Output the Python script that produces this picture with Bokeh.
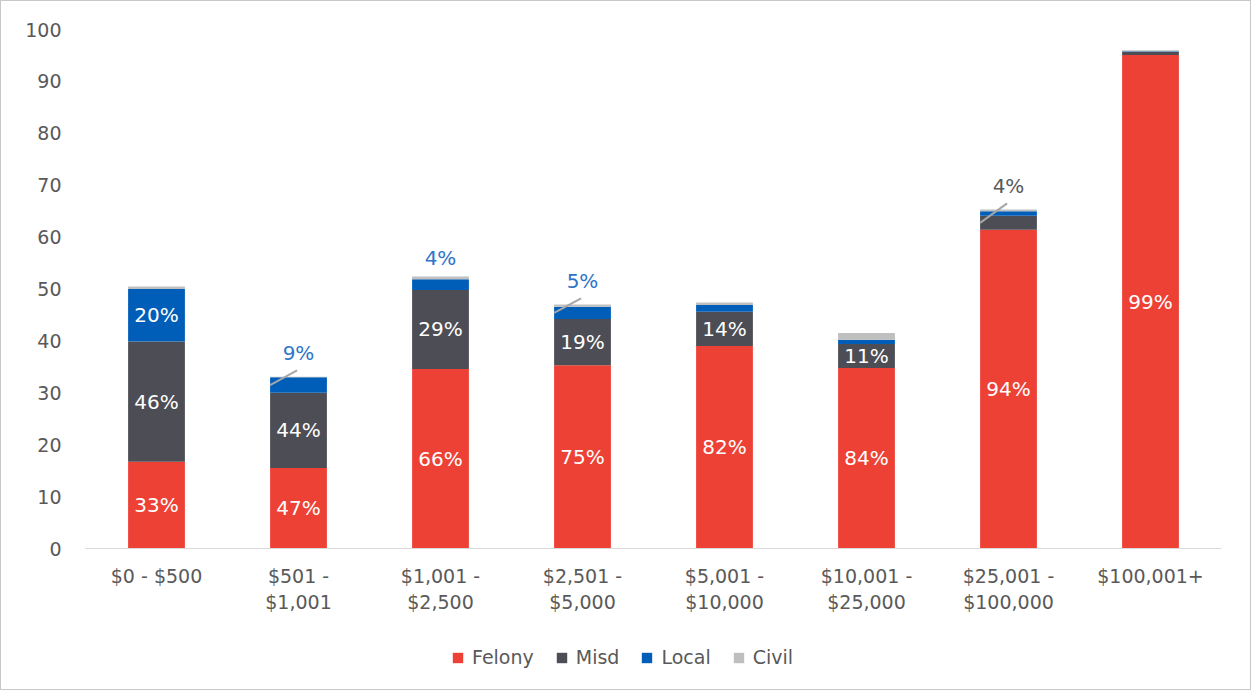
from bokeh.plotting import figure
from bokeh.layouts import column
from bokeh.models import Range1d, FixedTicker, Legend, LegendItem, ColumnDataSource
from bokeh.embed import file_html
from bokeh.resources import INLINE
from bokeh.core.properties import value

# ---------------- data ----------------
categories = ["$0 - $500", "$501 - $1,001", "$1,001 - $2,500", "$2,501 - $5,000",
              "$5,001 - $10,000", "$10,001 - $25,000", "$25,001 - $100,000", "$100,001+"]
tick_labels = ["$0 - $500", "$501 -\n$1,001", "$1,001 -\n$2,500", "$2,501 -\n$5,000",
               "$5,001 -\n$10,000", "$10,001 -\n$25,000", "$25,001 -\n$100,000", "$100,001+"]
felony = [16.7, 15.5, 34.6, 35.3, 39.0, 34.8, 61.4, 95.1]
misd = [23.2, 14.5, 15.2, 8.9, 6.6, 4.6, 2.7, 0.6]
local = [10.1, 3.0, 2.1, 2.4, 1.3, 0.8, 0.9, 0.1]
civil = [0.5, 0.1, 0.5, 0.4, 0.5, 1.3, 0.3, 0.2]
series_names = ["Felony", "Misd", "Local", "Civil"]
y_ticks = [0, 10, 20, 30, 40, 50, 60, 70, 80, 90, 100]

# which segments carry a label inside the bar
inside_felony = [0, 1, 2, 3, 4, 5, 6, 7]
inside_misd = [0, 1, 2, 3, 4, 5]
inside_local = [0]
# labels placed above the bar: (bar index, series, leader line?)
outside = [(1, "Local", True), (2, "Local", False), (3, "Local", True), (6, "Misd", True)]

# ---------------- style ----------------
colors = ["#EE4136", "#4D4D55", "#005EB8", "#BFBFBF"]
FONT = "DejaVu Sans"
TXT = "#595959"

series = {"Felony": felony, "Misd": misd, "Local": local, "Civil": civil}
xs = list(range(len(categories)))
totals = [sum(v) for v in zip(felony, misd, local, civil)]

src = ColumnDataSource(dict(x=xs, Felony=felony, Misd=misd, Local=local, Civil=civil))

p = figure(width=1249, height=640, x_range=Range1d(-0.5, len(categories) - 0.5),
           y_range=Range1d(0, 100), output_backend="svg", toolbar_location=None,
           min_border_left=84, min_border_right=29, min_border_top=28, min_border_bottom=93)
p.outline_line_color = None
p.xgrid.visible = False
p.ygrid.visible = False

renderers = p.vbar_stack(series_names, x="x", width=0.4, fill_color=colors, line_color=None, source=src)

# helper: bottom of a segment
def seg_bottom(i, name):
    b = 0.0
    for n in series_names:
        if n == name:
            return b
        b += series[n][i]
    return b

lx, ly, lt, lc = [], [], [], []
for name, idxs in (("Felony", inside_felony), ("Misd", inside_misd), ("Local", inside_local)):
    for i in idxs:
        v = series[name][i]
        lx.append(i)
        ly.append(seg_bottom(i, name) + v / 2)
        lt.append(f"{round(100 * v / totals[i])}%")
        lc.append("white")

ox, oy, ot, oc = [], [], [], []
lead_x0, lead_y0, lead_x1, lead_y1 = [], [], [], []
for i, name, lead in outside:
    v = series[name][i]
    ypos = totals[i] + 4.6 if lead else totals[i] + 3.6
    ox.append(i)
    oy.append(ypos)
    ot.append(f"{round(100 * v / totals[i])}%")
    oc.append("#2E75C8" if name == "Local" else TXT)
    if lead:
        lead_x0.append(i - 0.2)
        lead_y0.append(seg_bottom(i, name) + v / 2)
        lead_x1.append(i - 0.01)
        lead_y1.append(ypos - 3.4)

p.segment(x0=lead_x0, y0=lead_y0, x1=lead_x1, y1=lead_y1, line_color="#A6A6A6", line_width=2)

p.text(x=lx, y=ly, text=lt, text_color=lc, text_align="center", text_baseline="middle",
       text_font=value(FONT), text_font_size="20px")
p.text(x=ox, y=oy, text=ot, text_color=oc, text_align="center", text_baseline="middle",
       text_font=value(FONT), text_font_size="20px")

# axes
p.xaxis.ticker = FixedTicker(ticks=xs)
p.xaxis.major_label_overrides = {i: lab for i, lab in zip(xs, tick_labels)}
p.xaxis.axis_line_color = "#D9D9D9"
p.xaxis.axis_line_width = 1
p.xaxis.major_tick_line_color = None
p.xaxis.minor_tick_line_color = None
p.xaxis.major_label_text_font = FONT
p.xaxis.major_label_text_font_size = "19px"
p.xaxis.major_label_text_color = TXT
p.xaxis.major_label_standoff = 10

p.yaxis.ticker = FixedTicker(ticks=y_ticks)
p.yaxis.axis_line_color = None
p.yaxis.major_tick_line_color = None
p.yaxis.minor_tick_line_color = None
p.yaxis.major_label_text_font = FONT
p.yaxis.major_label_text_font_size = "19px"
p.yaxis.major_label_text_color = TXT
p.yaxis.major_label_standoff = 18

# legend strip beneath the chart (key renderers hold no drawable data)
p2 = figure(width=1249, height=48, x_range=Range1d(0, 1), y_range=Range1d(0, 1),
            output_backend="svg", toolbar_location=None, min_border=0)
p2.axis.visible = False
p2.grid.visible = False
p2.outline_line_color = None
nan = float("nan")
key_renderers = [p2.vbar(x=[nan], top=[nan], width=0.4, fill_color=c, line_color=None) for c in colors]
legend = Legend(items=[LegendItem(label=n, renderers=[r]) for n, r in zip(series_names, key_renderers)],
                orientation="horizontal", location=(366, 21), border_line_color=None,
                background_fill_alpha=0,
                label_text_font=FONT, label_text_font_size="19px", label_text_color=TXT,
                glyph_width=13, glyph_height=13, spacing=21, margin=0, padding=4,
                label_standoff=8)
p2.add_layout(legend, "center")

layout = column(p, p2, spacing=0)
layout.styles = {"border": "1px solid #C8C8C8"}

open("out.html", "w").write(file_html(layout, INLINE))
